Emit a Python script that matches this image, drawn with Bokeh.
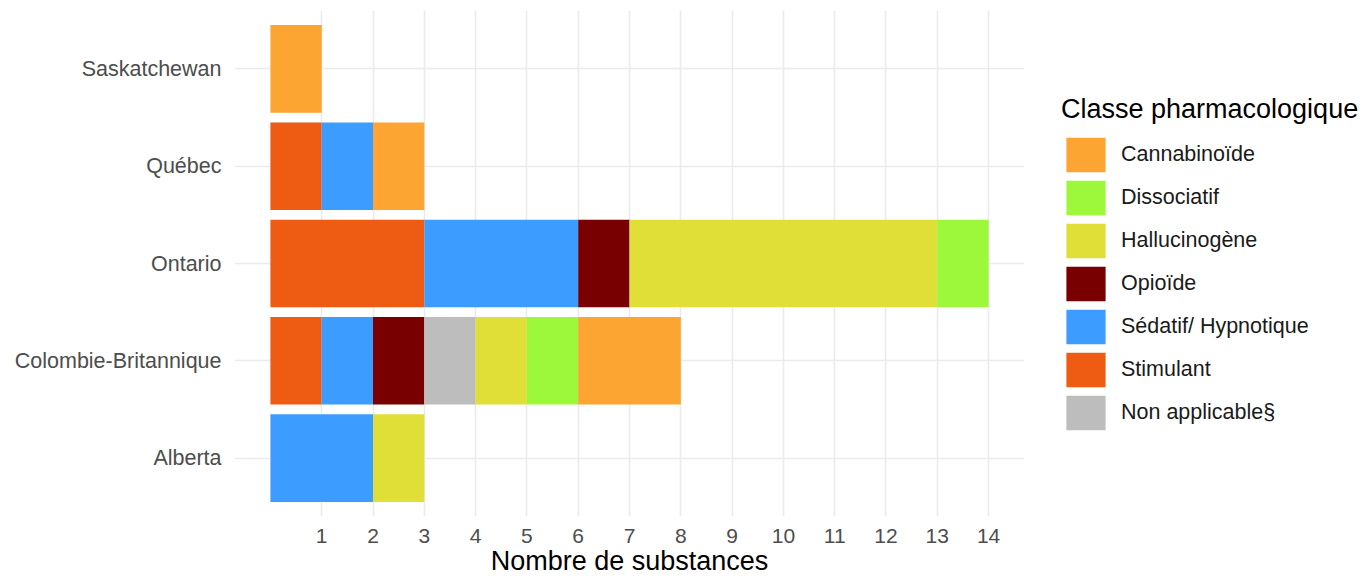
from bokeh.plotting import figure
from bokeh.layouts import row
from bokeh.models import Range1d, FactorRange, FixedTicker, Legend, LegendItem, ColumnDataSource
from bokeh.embed import file_html
from bokeh.resources import INLINE

# Data
provinces = ["Alberta", "Colombie-Britannique", "Ontario", "Québec", "Saskatchewan"]
stimulant = [0, 1, 3, 1, 0]
sedatif = [2, 1, 3, 1, 0]
opioide = [0, 1, 1, 0, 0]
non_applicable = [0, 1, 0, 0, 0]
hallucinogene = [1, 1, 6, 0, 0]
dissociatif = [0, 1, 1, 0, 0]
cannabinoide = [0, 2, 0, 1, 1]
x_ticks = list(range(1, 15))

stack_keys = ["Stimulant", "Sédatif/ Hypnotique", "Opioïde", "Non applicable§",
              "Hallucinogène", "Dissociatif", "Cannabinoïde"]
stack_colors = ["#EE5B12", "#3D9CFF", "#780000", "#BDBDBD", "#DFDF37", "#9DF73A", "#FCA532"]
legend_order = ["Cannabinoïde", "Dissociatif", "Hallucinogène", "Opioïde",
                "Sédatif/ Hypnotique", "Stimulant", "Non applicable§"]

source = ColumnDataSource(data={
    "province": provinces,
    "Stimulant": stimulant,
    "Sédatif/ Hypnotique": sedatif,
    "Opioïde": opioide,
    "Non applicable§": non_applicable,
    "Hallucinogène": hallucinogene,
    "Dissociatif": dissociatif,
    "Cannabinoïde": cannabinoide,
})

FONT = "Liberation Sans"

y_range = FactorRange(factors=provinces, range_padding=0.04, range_padding_units="percent")
x_range = Range1d(-0.7, 14.7)

p = figure(width=1024, height=578, output_backend="svg", toolbar_location=None,
           y_range=y_range, x_range=x_range,
           min_border_left=234, min_border_top=10, min_border_bottom=40, min_border_right=0)

renderers = p.hbar_stack(stack_keys, y="province", height=0.9, color=stack_colors,
                         line_color=None, source=source)

p.outline_line_color = None
p.background_fill_color = "white"

p.xgrid.ticker = FixedTicker(ticks=x_ticks)
p.xgrid.grid_line_color = "#EBEBEB"
p.xgrid.grid_line_width = 1.6
p.ygrid.grid_line_color = "#EBEBEB"
p.ygrid.grid_line_width = 1.6

p.xaxis.ticker = FixedTicker(ticks=x_ticks)
p.xaxis.axis_label = "Nombre de substances"
p.xaxis.axis_label_text_font = FONT
p.xaxis.axis_label_text_font_size = "27px"
p.xaxis.axis_label_text_font_style = "normal"
p.xaxis.axis_label_text_color = "#000000"
p.xaxis.axis_label_standoff = 0
p.xaxis.major_label_standoff = 6

for ax in (p.xaxis, p.yaxis):
    ax.axis_line_color = None
    ax.major_tick_line_color = None
    ax.minor_tick_line_color = None
    ax.major_label_text_font = FONT
    ax.major_label_text_color = "#4D4D4D"
p.xaxis.major_label_text_font_size = "21px"
p.yaxis.major_label_text_font_size = "21.5px"
p.yaxis.major_label_standoff = 7

# Legend panel to the right (legend proxies share the same data, hidden)
lf = figure(width=342, height=578, output_backend="svg", toolbar_location=None,
            x_axis_type=None, y_axis_type=None,
            x_range=x_range, y_range=y_range,
            min_border_left=0, min_border_right=0, min_border_bottom=0, min_border_top=0,
            outline_line_color=None)
proxies = lf.hbar_stack(stack_keys, y="province", height=0.9, color=stack_colors,
                        line_color=None, source=source)
for r in proxies:
    r.visible = False
pmap = dict(zip(stack_keys, proxies))

items = [LegendItem(label=k, renderers=[pmap[k]]) for k in legend_order]
legend = Legend(items=items, title="Classe pharmacologique",
                title_text_font=FONT, title_text_font_size="27px", title_text_color="#000000",
                title_text_font_style="normal", title_standoff=8,
                label_text_font=FONT, label_text_font_size="21.5px", label_text_color="#1A1A1A",
                glyph_width=49, glyph_height=43, spacing=0, label_standoff=11,
                border_line_color=None, background_fill_alpha=0,
                padding=0, margin=0, location=(37, 82))
lf.add_layout(legend, "center")

layout = row(p, lf, spacing=0)
open("out.html", "w").write(file_html(layout, INLINE))
